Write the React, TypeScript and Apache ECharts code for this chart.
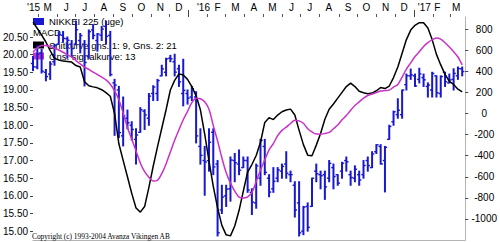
import React, { useEffect, useRef } from "react";
import * as echarts from "echarts";

// Weekly NIKKEI 225 bars, one entry per week starting 13 Apr 2015
const PRICE_OPEN = [
  19750, 19650, 20050, 19500, 19450, 19800, 20300, 20550, 20450, 20300,
  20300, 20400, 20300, 19950, 20700, 20400, 20550, 20800, 20550, 19200,
  19000, 17700, 18200, 18000, 17600, 17800, 18400, 18200, 18900, 18900,
  19400, 19500, 19900, 19800, 19600, 18900, 18900, 18800, 18800, 17400,
  17000, 17000, 17800, 16900, 15600, 16000, 16200, 17000, 16900, 16800,
  17000, 16100, 15800, 16500, 17400, 16500, 16200, 16500, 16700, 16900,
  16600, 16300, 15800, 15000, 15700, 15700, 16700, 16600, 16600, 16500,
  16800, 16600, 16700, 17000, 16600, 16500, 16600, 16600, 17000, 16800,
  17250, 17400, 17000, 17600, 18100, 18300, 18300, 19150, 19400, 19400,
  19300, 19350, 19100, 19000, 19400, 18900, 19500, 19200, 19300, 19400,
  19600,
];
const PRICE_HIGH = [
  19950, 20250, 20150, 19580, 19800, 20290, 20650, 20655, 20500, 20400,
  20952, 20600, 20400, 20700, 20850, 20600, 20800, 20946, 20660, 19300,
  19100, 18800, 18430, 18100, 17900, 18500, 18440, 18900, 19120, 19300,
  19700, 19900, 19980, 20012, 19700, 19870, 19000, 19100, 18950, 17900,
  17400, 17900, 17900, 17000, 16300, 16300, 17100, 17200, 17300, 17100,
  17100, 16200, 16900, 17600, 17600, 16600, 16800, 16800, 16900, 17250,
  16700, 16400, 16400, 15700, 15800, 16500, 16900, 16700, 16700, 17000,
  16900, 16600, 16950, 17100, 16700, 16850, 16700, 17000, 17100, 17250,
  17450, 17450, 17400, 18000, 18400, 18750, 19000, 19450, 19592, 19450,
  19615, 19450, 19200, 19500, 19400, 19400, 19500, 19450, 19600, 19650,
  19650,
];
const PRICE_LOW = [
  19550, 19600, 19480, 19260, 19300, 19700, 20300, 20350, 19900, 19950,
  20280, 20050, 19115, 19900, 20450, 20100, 20400, 20300, 19400, 17714,
  17650, 17415, 17900, 17580, 16901, 17800, 17880, 18000, 18700, 18700,
  19400, 19400, 19800, 19400, 19100, 18550, 18600, 18700, 17500, 16900,
  16017, 16700, 16600, 14865, 15500, 15700, 15850, 16400, 16600, 16800,
  16100, 15470, 15650, 16300, 16600, 15975, 16100, 16400, 16500, 16500,
  16400, 15400, 14864, 14900, 15000, 15700, 16400, 16200, 15900, 16400,
  16200, 16300, 16500, 16700, 16300, 16400, 16300, 16500, 16700, 16800,
  17200, 16900, 16111, 17600, 18000, 18200, 18200, 19000, 19300, 19100,
  19200, 19100, 18800, 18800, 18800, 18800, 19100, 19200, 19000, 19300,
  19400,
];
const PRICE_CLOSE = [
  19653, 20020, 19532, 19379, 19733, 20264, 20563, 20461, 20407, 20174,
  20706, 20540, 19780, 20651, 20545, 20585, 20725, 20519, 19436, 19136,
  17792, 18264, 18070, 17881, 17725, 18439, 18292, 18825, 19083, 19266,
  19597, 19880, 19884, 19504, 19230, 18987, 18769, 19034, 17698, 17147,
  16959, 17518, 16820, 14953, 15967, 16188, 17015, 16939, 16725, 17003,
  16164, 15822, 16848, 17572, 16666, 16107, 16412, 16736, 16835, 16642,
  16601, 15600, 14952, 15682, 15107, 16498, 16627, 16569, 16254, 16920,
  16546, 16361, 16926, 16966, 16519, 16754, 16450, 16860, 16856, 17185,
  17446, 16905, 17375, 17967, 18381, 18426, 18996, 19401, 19428, 19114,
  19454, 19287, 19138, 19467, 18918, 19379, 19235, 19284, 19469, 19605,
  19522,
];

// MACD line (averages 9 and 21) and its 13-week signal curve, per week
const MACD_LINE = [
  866, 805, 743, 677, 595, 522, 507, 496, 492, 487,
  454, 440, 300, 262, 252, 243, 225, 197, 163, 0,
  -287, -444, -600, -757, -895, -935, -882, -700, -500, -316,
  -140, 35, 222, 313, 375, 365, 323, 254, 167, 35,
  -196, -450, -690, -895, -1060, -1150, -1160, -1067, -920, -736,
  -555, -484, -398, -273, -85, -40, -58, -15, 16, 33,
  41, -15, -160, -295, -395, -400, -300, -190, -55, 40,
  90, 145, 200, 255, 288, 255, 210, 197, 186, 193,
  215, 245, 236, 260, 340, 440, 570, 700, 790, 835,
  860, 860, 810, 700, 560, 460, 370, 305, 275, 230,
  205,
];
const SIGNAL_LINE = [
  582, 622, 643, 644, 633, 618, 601, 580, 556, 534,
  500, 469, 440, 417, 392, 369, 345, 318, 277, 215,
  130, 4, -132, -243, -355, -470, -552, -605, -640, -633,
  -570, -478, -365, -254, -155, -60, 20, 102, 145, 140,
  111, 40, -115, -260, -420, -560, -660, -735, -792, -800,
  -790, -750, -645, -535, -440, -345, -285, -210, -160, -130,
  -95, -65, -70, -93, -145, -175, -195, -196, -190, -180,
  -145, -110, -60, -20, 30, 75, 110, 145, 170, 185,
  198, 212, 217, 221, 250, 275, 345, 420, 480, 540,
  585, 635, 672, 697, 715, 705, 670, 629, 585, 535,
  460,
];

// Axis ticks and labels
const PRICE_TICKS = [15000, 15500, 16000, 16500, 17000, 17500, 18000, 18500, 19000, 19500, 20000, 20500];
const MACD_TICKS = [-1000, -800, -600, -400, -200, 0, 200, 400, 600, 800];
const MONTH_STARTS = [
  "2015-05-01", "2015-06-01", "2015-07-01", "2015-08-01", "2015-09-01", "2015-10-01",
  "2015-11-01", "2015-12-01", "2016-01-01", "2016-02-01", "2016-03-01", "2016-04-01",
  "2016-05-01", "2016-06-01", "2016-07-01", "2016-08-01", "2016-09-01", "2016-10-01",
  "2016-11-01", "2016-12-01", "2017-01-01", "2017-02-01", "2017-03-01",
];
const YEAR_STARTS = ["2016-01-01", "2017-01-01"];
const MONTH_LABELS = ["'15", "M", "J", "J", "A", "S", "O", "N", "D", "'16", "F", "M", "A", "M", "J", "J", "A", "S", "O", "N", "D", "'17", "F", "M"];
const MONTH_LABEL_DATES = [
  "2015-04-24", "2015-05-17", "2015-06-16", "2015-07-16", "2015-08-16", "2015-09-16",
  "2015-10-16", "2015-11-16", "2015-12-16", "2016-01-25", "2016-02-17", "2016-03-17",
  "2016-04-16", "2016-05-16", "2016-06-16", "2016-07-16", "2016-08-16", "2016-09-16",
  "2016-10-16", "2016-11-16", "2016-12-16", "2017-01-18", "2017-02-08", "2017-03-11",
];

const PRICE_NAME = "NIKKEI 225 (uge)";
const MACD_NAME = "Snitkurve gns. 1: 9, Gns. 2: 21";
const SIGNAL_NAME = "Gns. signalkurve: 13";

const BLUE = "#1818D0";
const MAGENTA = "#C832C8";
const FONT = "'Liberation Sans', Arial, sans-serif";

const ts = (d: string) => Date.parse(d + "T00:00:00Z");
const TIME_MIN = ts("2015-04-23");
const TIME_MAX = ts("2017-03-25") + 12 * 3600 * 1000;

const legendText = { fontFamily: FONT, fontSize: 9.5, color: "#000", lineHeight: 11 };

export default function App() {
  const ref = useRef<HTMLDivElement>(null);

  useEffect(() => {
    if (!ref.current) return;
    const chart = echarts.init(ref.current, null, { renderer: "svg" });

    const bars = PRICE_OPEN.map((o, i) => [i, o, PRICE_HIGH[i], PRICE_LOW[i], PRICE_CLOSE[i]]);
    const macd = MACD_LINE.map((v, i) => [i, v]);
    const signal = SIGNAL_LINE.map((v, i) => [i, v]);
    const labelValues = MONTH_LABEL_DATES.map(ts);
    // the axis ends carry blank labels so the month labels keep their own positions
    const labelPositions = [TIME_MIN, ...labelValues, TIME_MAX];

    const option: any = {
      animation: false,
      grid: { left: 32, right: 32, top: 17, bottom: 2, containLabel: false },
      legend: [
        {
          left: 33,
          top: 16,
          padding: 0,
          orient: "vertical",
          z: 1,
          selectedMode: false,
          itemWidth: 11,
          itemHeight: 7,
          itemGap: 0,
          textStyle: legendText,
          data: [{ name: PRICE_NAME, icon: "rect", itemStyle: { color: BLUE } }],
        },
        {
          left: 33,
          top: 39.5,
          padding: 0,
          orient: "vertical",
          z: 1,
          selectedMode: false,
          itemWidth: 11,
          itemHeight: 7,
          itemGap: 0,
          textStyle: legendText,
          data: [
            { name: MACD_NAME, icon: "rect", itemStyle: { color: "#000" } },
            { name: SIGNAL_NAME, icon: "rect", itemStyle: { color: MAGENTA } },
          ],
        },
      ],
      graphic: [
        {
          type: "text",
          left: 33,
          top: 27.5,
          z: 1,
          style: { text: "MACD", fontFamily: FONT, fontSize: 9.5, fill: "#000" },
        },
        {
          type: "text",
          left: 32,
          top: 232.5,
          z: 1,
          style: {
            text: "Copyright (c) 1993-2004 Avanza Vikingen AB",
            fontFamily: "'Liberation Serif', 'Times New Roman', serif",
            fontSize: 7.4,
            fill: "#000",
          },
        },
      ],
      xAxis: [
        {
          type: "value",
          min: 0,
          max: 100.7,
          position: "bottom",
          axisLine: { show: true, onZero: false, lineStyle: { color: "#b4b4b4", width: 1 } },
          axisTick: { show: false },
          axisLabel: { show: false },
          splitLine: { show: false },
        },
        {
          type: "value",
          position: "top",
          min: TIME_MIN,
          max: TIME_MAX,
          axisLine: { show: false, onZero: false },
          axisTick: {
            show: true,
            length: 3,
            customValues: MONTH_STARTS.map(ts),
            lineStyle: { color: "#555", width: 1 },
          },
          axisLabel: {
            show: true,
            customValues: labelPositions,
            margin: 5,
            hideOverlap: false,
            fontFamily: FONT,
            fontSize: 10,
            color: "#000",
            formatter: (v: number) => {
              const k = labelValues.indexOf(v);
              return k >= 0 ? MONTH_LABELS[k] : "";
            },
          },
          splitLine: { show: false },
        },
        {
          type: "value",
          position: "top",
          min: TIME_MIN,
          max: TIME_MAX,
          axisLine: { show: false, onZero: false },
          axisTick: {
            show: true,
            length: 7,
            customValues: YEAR_STARTS.map(ts),
            lineStyle: { color: "#444", width: 1 },
          },
          axisLabel: { show: false },
          splitLine: { show: false },
        },
      ],
      yAxis: [
        {
          type: "value",
          position: "left",
          min: 14749,
          max: 21067,
          axisLine: { show: false, onZero: false },
          axisTick: {
            show: true,
            length: 3,
            customValues: PRICE_TICKS,
            lineStyle: { color: "#444" },
          },
          axisLabel: {
            customValues: PRICE_TICKS,
            margin: 5,
            fontFamily: FONT,
            fontSize: 10,
            color: "#000",
            formatter: (v: number) => (v / 1000).toFixed(2),
          },
          splitLine: { show: false },
        },
        {
          type: "value",
          position: "right",
          min: -1199,
          max: 914,
          axisLine: { show: true, onZero: false, lineStyle: { color: "#b4b4b4", width: 1 } },
          axisTick: {
            show: true,
            length: 3,
            customValues: MACD_TICKS,
            lineStyle: { color: "#444" },
          },
          axisLabel: {
            customValues: MACD_TICKS,
            margin: 19,
            align: "center",
            fontFamily: FONT,
            fontSize: 10,
            color: "#000",
            formatter: (v: number) => String(v),
          },
          splitLine: { show: false },
        },
      ],
      series: [
        {
          name: PRICE_NAME,
          type: "custom",
          xAxisIndex: 0,
          yAxisIndex: 0,
          z: 2,
          itemStyle: { color: BLUE },
          encode: { x: 0, y: [1, 2, 3, 4] },
          data: bars,
          renderItem: (_params: any, api: any) => {
            const i = api.value(0);
            const pH = api.coord([i, api.value(2)]);
            const pL = api.coord([i, api.value(3)]);
            const pO = api.coord([i, api.value(1)]);
            const pC = api.coord([i, api.value(4)]);
            const x = pH[0];
            return {
              type: "group",
              children: [
                {
                  type: "line",
                  shape: { x1: x, y1: pH[1] - 0.5, x2: x, y2: pL[1] + 0.5 },
                  style: { stroke: BLUE, lineWidth: 2 },
                },
                {
                  type: "line",
                  shape: { x1: x - 2.2, y1: pO[1], x2: x, y2: pO[1] },
                  style: { stroke: BLUE, lineWidth: 1.4 },
                },
                {
                  type: "line",
                  shape: { x1: x, y1: pC[1], x2: x + 2.2, y2: pC[1] },
                  style: { stroke: BLUE, lineWidth: 1.4 },
                },
              ],
            };
          },
        },
        {
          name: MACD_NAME,
          type: "line",
          xAxisIndex: 0,
          yAxisIndex: 1,
          z: 3,
          showSymbol: false,
          symbol: "none",
          color: "#000",
          itemStyle: { color: "#000" },
          lineStyle: { color: "#000", width: 1.5 },
          data: macd,
        },
        {
          name: SIGNAL_NAME,
          type: "line",
          xAxisIndex: 0,
          yAxisIndex: 1,
          z: 3,
          showSymbol: false,
          symbol: "none",
          smooth: 0.3,
          color: MAGENTA,
          itemStyle: { color: MAGENTA },
          lineStyle: { color: MAGENTA, width: 1.5 },
          data: signal,
        },
      ],
    };

    chart.setOption(option);
    return () => chart.dispose();
  }, []);

  return (
    <div
      ref={ref}
      style={{ position: "absolute", left: 0, top: 0, width: 500, height: 242, background: "#fff" }}
    />
  );
}
